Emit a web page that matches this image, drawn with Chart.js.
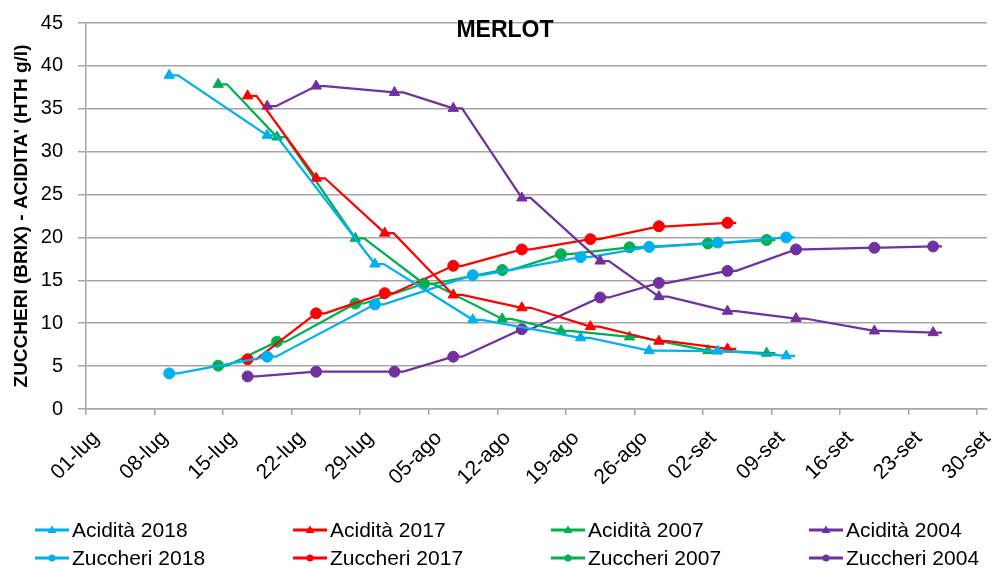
<!DOCTYPE html>
<html>
<head>
<meta charset="utf-8">
<script src="https://cdn.jsdelivr.net/npm/chart.js@4.4.1/dist/chart.umd.min.js"></script>
<style>
    body { margin: 0; background: #fff; }
    #wrap { position: relative; width: 994px; height: 570px; }
    #legend {
        position: absolute; left: 0; top: 516px; width: 994px;
        font-family: "Liberation Sans", Arial, sans-serif; font-size: 21px; color: #000;
    }
    .row { display: flex; height: 28px; align-items: center; padding-left: 35px; }
    .item { flex: 0 0 258px; display: flex; align-items: center; white-space: nowrap; }
    .item canvas { margin-right: 3px; }
</style>
</head>
<body>
<div id="wrap">
    <canvas id="merlot" width="994" height="570"></canvas>
    <div id="legend"></div>
</div>
<script>
// x axis tick labels (weekly)
const tickLabels = ['01-lug', '08-lug', '15-lug', '22-lug', '29-lug', '05-ago', '12-ago',
    '19-ago', '26-ago', '02-set', '09-set', '16-set', '23-set', '30-set'];

// sampling dates and values
const dates2018 = ['09-lug', '19-lug', '30-lug', '09-ago', '20-ago', '27-ago', '03-set', '10-set'];
const acid2018 = [38.9, 31.9, 16.9, 10.4, 8.3, 6.8, 6.75, 6.2];
const sugar2018 = [4.15, 6.1, 12.2, 15.6, 17.7, 18.9, 19.4, 20.0];

const dates2017 = ['17-lug', '24-lug', '31-lug', '07-ago', '14-ago', '21-ago', '28-ago', '04-set'];
const acid2017 = [36.5, 26.9, 20.5, 13.3, 11.8, 9.6, 7.9, 7.0];
const sugar2017 = [5.8, 11.15, 13.5, 16.7, 18.6, 19.8, 21.3, 21.7];

const dates2007 = ['14-lug', '20-lug', '28-lug', '04-ago', '12-ago', '18-ago', '25-ago', '02-set', '08-set'];
const acid2007 = [37.85, 31.7, 19.9, 14.6, 10.5, 9.1, 8.4, 6.8, 6.5];
const sugar2007 = [5.05, 7.85, 12.3, 14.6, 16.2, 18.05, 18.85, 19.3, 19.7];

const datesAcid2004 = ['19-lug', '24-lug', '01-ago', '07-ago', '14-ago', '22-ago', '28-ago', '04-set', '11-set', '19-set', '25-set'];
const acid2004 = [35.3, 37.65, 36.9, 35.05, 24.6, 17.25, 13.1, 11.4, 10.55, 9.1, 8.9];
const datesSugar2004 = ['17-lug', '24-lug', '01-ago', '07-ago', '14-ago', '22-ago', '28-ago', '04-set', '11-set', '19-set', '25-set'];
const sugar2004 = [3.8, 4.35, 4.35, 6.1, 9.3, 13.0, 14.7, 16.1, 18.6, 18.8, 18.95];

const monthStart = { lug: 0, ago: 31, set: 62 };
function dayOf(s) {
    const [d, m] = s.split('-');
    return monthStart[m] + Number(d) - 1;
}

// excel draws each point mid-day and the line carries on a bit before turning
const TAIL = 0.9;
function makeSeries(label, dates, values, color, style) {
    let pts = [];
    dates.forEach((d, i) => {
        const x = dayOf(d) + 0.5;
        pts.push({ x: x, y: values[i], mark: true });
        pts.push({ x: x + TAIL, y: values[i], mark: false });
    });
    const r = style === 'triangle' ? 6 : 5.5;
    return {
        label: label,
        data: pts,
        borderColor: color,
        backgroundColor: color,
        borderWidth: 2.25,
        pointStyle: style,
        pointRadius: (ctx) => (ctx.raw && ctx.raw.mark ? r : 0),
        pointBorderWidth: 1,
        pointHoverRadius: 0,
        tension: 0,
        fill: false
    };
}

const BLUE = '#00b0f0', RED = '#ff0000', GREEN = '#00b050', PURPLE = '#7030a0';
const datasets = [
    makeSeries('Acidità 2018', dates2018, acid2018, BLUE, 'triangle'),
    makeSeries('Acidità 2017', dates2017, acid2017, RED, 'triangle'),
    makeSeries('Acidità 2007', dates2007, acid2007, GREEN, 'triangle'),
    makeSeries('Acidità 2004', datesAcid2004, acid2004, PURPLE, 'triangle'),
    makeSeries('Zuccheri 2018', dates2018, sugar2018, BLUE, 'circle'),
    makeSeries('Zuccheri 2017', dates2017, sugar2017, RED, 'circle'),
    makeSeries('Zuccheri 2007', dates2007, sugar2007, GREEN, 'circle'),
    makeSeries('Zuccheri 2004', datesSugar2004, sugar2004, PURPLE, 'circle')
];

const FONT = '"Liberation Sans", Arial, sans-serif';
const GRID = '#a6a6a6';

const chart = new Chart(document.getElementById('merlot').getContext('2d'), {
    type: 'line',
    data: { datasets: datasets },
    options: {
        responsive: false,
        animation: false,
        layout: { padding: { left: 20, right: 4, top: 0, bottom: 76 } },
        plugins: {
            legend: { display: false },
            tooltip: { enabled: false },
            title: {
                display: true,
                text: 'MERLOT',
                color: '#000',
                font: { family: FONT, size: 23, weight: 'bold' },
                padding: { top: 17, bottom: -21.6 }
            }
        },
        scales: {
            x: {
                type: 'linear',
                min: 0,
                max: 92,
                afterBuildTicks: (s) => { s.ticks = tickLabels.map(t => ({ value: dayOf(t) })); },
                afterFit: (s) => { s.height = 85; s.paddingRight = 0; s.paddingLeft = 0; },
                grid: { drawOnChartArea: false, drawTicks: true, tickLength: 6, color: GRID, lineWidth: 1.5 },
                border: { color: GRID, width: 1.5 },
                ticks: {
                    autoSkip: false,
                    minRotation: 45,
                    maxRotation: 45,
                    padding: 11,
                    labelOffset: 10,
                    color: '#000',
                    font: { family: FONT, size: 21 },
                    callback: (v) => tickLabels.find(t => dayOf(t) === v)
                }
            },
            y: {
                min: 0,
                max: 45,
                afterFit: (s) => { s.width = 66; s.paddingTop = 0; s.paddingBottom = 0; },
                grid: { color: GRID, lineWidth: 1.5, tickLength: 8 },
                border: { color: GRID, width: 1.5 },
                ticks: { stepSize: 5, padding: 15, color: '#000', font: { family: FONT, size: 20 } },
                title: {
                    display: true,
                    text: "ZUCCHERI (BRIX) - ACIDITA' (HTH g/l)",
                    color: '#000',
                    font: { family: FONT, size: 19, weight: 'bold' },
                    padding: { top: -10, bottom: 0 }
                }
            }
        }
    }
});

// legend in 4 columns, 2 rows like the excel one
function drawSample(cv, color, style) {
    const c = cv.getContext('2d');
    c.strokeStyle = color;
    c.fillStyle = color;
    c.lineWidth = 3;
    c.beginPath();
    c.moveTo(0, 8);
    c.lineTo(34, 8);
    c.stroke();
    c.beginPath();
    if (style === 'triangle') {
        c.moveTo(17, 3.5);
        c.lineTo(21.5, 11);
        c.lineTo(12.5, 11);
        c.closePath();
    } else {
        c.arc(17, 8, 3.5, 0, Math.PI * 2);
    }
    c.fill();
}

const legendEl = document.getElementById('legend');
for (let r = 0; r < 2; r++) {
    const row = document.createElement('div');
    row.className = 'row';
    for (let k = 0; k < 4; k++) {
        const ds = chart.data.datasets[r * 4 + k];
        const item = document.createElement('div');
        item.className = 'item';
        const cv = document.createElement('canvas');
        cv.width = 34;
        cv.height = 16;
        drawSample(cv, ds.borderColor, ds.pointStyle);
        const span = document.createElement('span');
        span.textContent = ds.label;
        item.appendChild(cv);
        item.appendChild(span);
        row.appendChild(item);
    }
    legendEl.appendChild(row);
}
</script>
</body>
</html>
